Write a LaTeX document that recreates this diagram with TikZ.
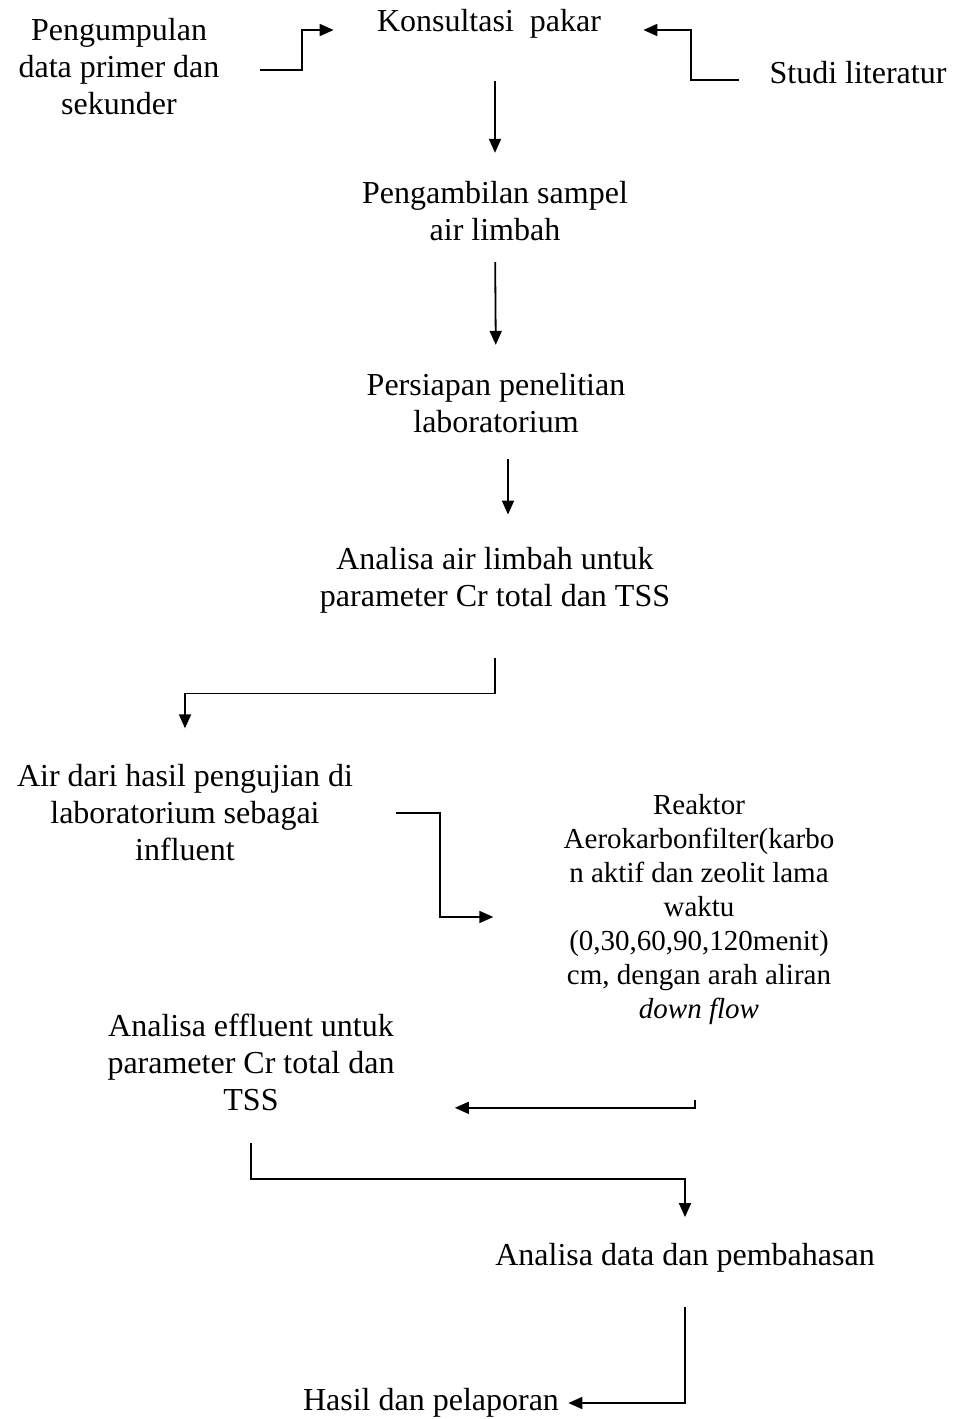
\documentclass[tikz,border=0pt]{standalone}
\usepackage{fontspec}
\setmainfont{Liberation Serif}
\usepackage{tikz}
\usetikzlibrary{arrows.meta,calc}
\tikzset{
  arrow/.style={-{Triangle[length=7pt,width=6pt]},line width=0.9pt},
  stage/.style={inner sep=0pt,align=center,font=\fontsize{16pt}{18.5pt}\selectfont},
  smallstage/.style={inner sep=0pt,align=center,font=\fontsize{14.5pt}{17pt}\selectfont}
}
\begin{document}
\begin{tikzpicture}[x=0.5pt,y=-0.5pt]
  \useasboundingbox (0,0) rectangle (955,1419);
  \node[stage] (pengumpulan) at (119,67) {Pengumpulan\\data primer dan\\sekunder};
  \node[stage] (konsultasi) at (489,24) {Konsultasi\ \ pakar};
  \node[stage] (studi) at (858,73) {Studi literatur};
  \node[stage] (sampel) at (495,211) {Pengambilan sampel\\air limbah};
  \node[stage] (persiapan) at (496,403) {Persiapan penelitian\\laboratorium};
  \node[stage] (analisa) at (495,580) {Analisa air limbah untuk\\parameter Cr total dan TSS};
  \node[stage] (influent) at (185,813) {Air dari hasil pengujian di\\laboratorium sebagai\\influent};
  \node[smallstage] (reaktor) at (699,910) {Reaktor\\Aerokarbonfilter(karbo\\n aktif dan zeolit lama\\waktu\\(0,30,60,90,120menit)\\cm, dengan arah aliran\\\textit{down flow}};
  \node[stage] (effluent) at (251,1062) {Analisa effluent untuk\\parameter Cr total dan\\TSS};
  \node[stage] (pembahasan) at (685,1258) {Analisa data dan pembahasan};
  \node[stage] (hasil) at (431,1403) {Hasil dan pelaporan};

  \draw[arrow,shorten <=20pt,shorten >=21.5pt] ([yshift=-1.5pt]pengumpulan.east) -- ++(82,0) |- ([yshift=-3pt]konsultasi.west);
  \draw[arrow,shorten <=15pt,shorten >=21pt] ([yshift=-3.5pt]studi.west) -- ++(-78,0) |- ([yshift=-3pt]konsultasi.east);
  \draw[arrow,shorten <=21pt,shorten >=14pt] (konsultasi.south -| sampel.north) -- (sampel.north);
  \draw[arrow,shorten <=10.5pt,shorten >=14pt] (sampel.south) -- (persiapan.north);
  \draw[arrow,shorten <=13pt,shorten >=16pt] ([xshift=6pt]persiapan.south) -- ([xshift=6pt]persiapan.south |- analisa.north);
  \draw[arrow,shorten <=22.5pt,shorten >=18pt] (analisa.south) -- ++(0,80) -| (influent.north);
  \draw[arrow,shorten <=21.5pt,shorten >=35pt] (influent.east) -- ++(87,0) |- ([yshift=-3.5pt]reaktor.west);
  \draw[arrow,shorten <=37pt,shorten >=30pt] ([xshift=-2pt]reaktor.south) |- ([yshift=1.5pt]effluent.south east);
  \draw[arrow,shorten <=16pt,shorten >=13pt] (effluent.south) -- ++(0,68.5) -| (pembahasan.north);
  \draw[arrow,shorten <=17pt,shorten >=4.5pt] (pembahasan.south) |- (hasil.east);
\end{tikzpicture}
\end{document}
